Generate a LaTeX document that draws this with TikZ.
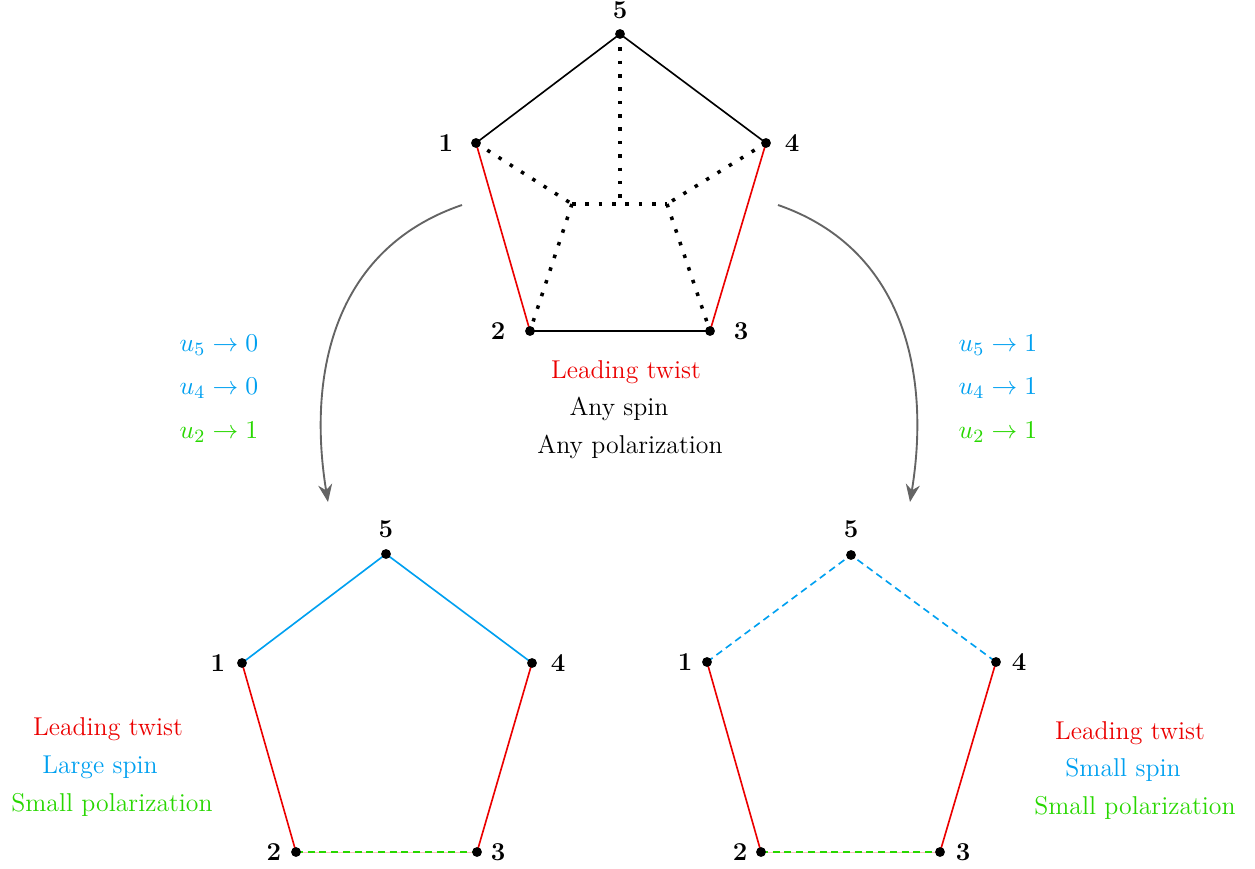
\documentclass[tikz,border=0pt]{standalone}
\usetikzlibrary{arrows.meta}
\definecolor{myblue}{RGB}{0,160,240}
\definecolor{mygreen}{RGB}{40,215,0}
\definecolor{myred}{RGB}{235,0,0}
\definecolor{mygrey}{RGB}{100,100,100}
\tikzset{
  dotv/.style={circle,fill=black,inner sep=0pt,minimum size=4.2pt},
  vlbl/.style={font=\fontsize{11}{13}\selectfont\bfseries,inner sep=0pt},
  edge/.style={line width=0.7pt},
  inner/.style={line width=1.5pt,dash pattern=on 1.5pt off 4.2pt},
  bdash/.style={edge,myblue,dash pattern=on 3pt off 2pt},
  gdash/.style={line width=0.8pt,mygreen,dash pattern=on 3pt off 2pt},
  flow/.style={mygrey,line width=0.8pt,-{Stealth[length=7.5pt,width=6pt]}},
  txt/.style={inner sep=0pt,font=\fontsize{11}{13}\selectfont}
}
\begin{document}
\begin{tikzpicture}[x=0.015cm,y=-0.015cm]
\useasboundingbox (0,0) rectangle (1255,869);
% ---------- top pentagon ----------
\coordinate (T5) at (620,34);
\coordinate (T1) at (476,143);
\coordinate (T4) at (766,143);
\coordinate (T2) at (530,331);
\coordinate (T3) at (710,331);
\coordinate (TL) at (572,204);
\coordinate (TC) at (620,204);
\coordinate (TR) at (667,204);
\draw[edge] (T1) -- (T5) -- (T4);
\draw[edge] (T2) -- (T3);
\draw[edge,myred] (T1) -- (T2);
\draw[edge,myred] (T4) -- (T3);
\draw[inner] (T1) -- (TL);
\draw[inner] (T4) -- (TR);
\draw[inner] (T5) -- (TC);
\draw[inner] (TL) -- (TR);
\draw[inner] (TL) -- (T2);
\draw[inner] (TR) -- (T3);
\foreach \p in {T1,T2,T3,T4,T5} \node[dotv] (d\p) at (\p) {};
\node[vlbl] (l5) at (620,10) {5};
\node[vlbl] (l1) at (446,143) {1};
\node[vlbl] (l4) at (792,143) {4};
\node[vlbl] (l2) at (498,331) {2};
\node[vlbl] (l3) at (741,331) {3};
\node[txt,myred] (c1) at (626,372) {Leading twist};
\node[txt] (c2) at (619,409) {Any spin};
\node[txt] (c3) at (630,447) {Any polarization};
% ---------- arrows ----------
\coordinate (AL0) at (462,205);
\coordinate (AL1) at (328,502);
\coordinate (AR0) at (778,205);
\coordinate (AR1) at (910,502);
\draw[flow] (AL0) .. controls (330,250) and (308,380) .. (AL1);
\draw[flow] (AR0) .. controls (908,250) and (930,380) .. (AR1);
\node[txt,myblue] (a1) at (219,345) {$u_5\to 0$};
\node[txt,myblue] (a2) at (219,388) {$u_4\to 0$};
\node[txt,mygreen] (a3) at (219,432) {$u_2\to 1$};
\node[txt,myblue] (b1) at (998,345) {$u_5\to 1$};
\node[txt,myblue] (b2) at (998,388) {$u_4\to 1$};
\node[txt,mygreen] (b3) at (998,432) {$u_2\to 1$};
% ---------- bottom-left pentagon ----------
\coordinate (L5) at (386,554);
\coordinate (L1) at (242,663);
\coordinate (L4) at (532,663);
\coordinate (L2) at (296,852);
\coordinate (L3) at (477,852);
\draw[edge,myblue] (L1) -- (L5) -- (L4);
\draw[edge,myred] (L1) -- (L2);
\draw[edge,myred] (L4) -- (L3);
\draw[line width=0.3pt,myred!25] (L2) -- (L3);
\draw[gdash] (L2) -- (L3);
\foreach \p in {L1,L2,L3,L4,L5} \node[dotv] (d\p) at (\p) {};
\node[vlbl] (m5) at (386,529) {5};
\node[vlbl] (m1) at (218,663) {1};
\node[vlbl] (m4) at (558,663) {4};
\node[vlbl] (m2) at (274,852) {2};
\node[vlbl] (m3) at (498,852) {3};
\node[txt,myred] (e1) at (108,729) {Leading twist};
\node[txt,myblue] (e2) at (100,767) {Large spin};
\node[txt,mygreen] (e3) at (112,805) {Small polarization};
% ---------- bottom-right pentagon ----------
\coordinate (R5) at (851,555);
\coordinate (R1) at (707,662);
\coordinate (R4) at (996,662);
\coordinate (R2) at (761,852);
\coordinate (R3) at (940,852);
\draw[bdash] (R1) -- (R5) -- (R4);
\draw[edge,myred] (R1) -- (R2);
\draw[edge,myred] (R4) -- (R3);
\draw[line width=0.3pt,myred!25] (R2) -- (R3);
\draw[gdash] (R2) -- (R3);
\foreach \p in {R1,R2,R3,R4,R5} \node[dotv] (d\p) at (\p) {};
\node[vlbl] (n5) at (851,529) {5};
\node[vlbl] (n1) at (685,662) {1};
\node[vlbl] (n4) at (1019,662) {4};
\node[vlbl] (n2) at (740,852) {2};
\node[vlbl] (n3) at (963,852) {3};
\node[txt,myred] (f1) at (1130,733) {Leading twist};
\node[txt,myblue] (f2) at (1123,770) {Small spin};
\node[txt,mygreen] (f3) at (1135,808) {Small polarization};
\end{tikzpicture}
\end{document}
